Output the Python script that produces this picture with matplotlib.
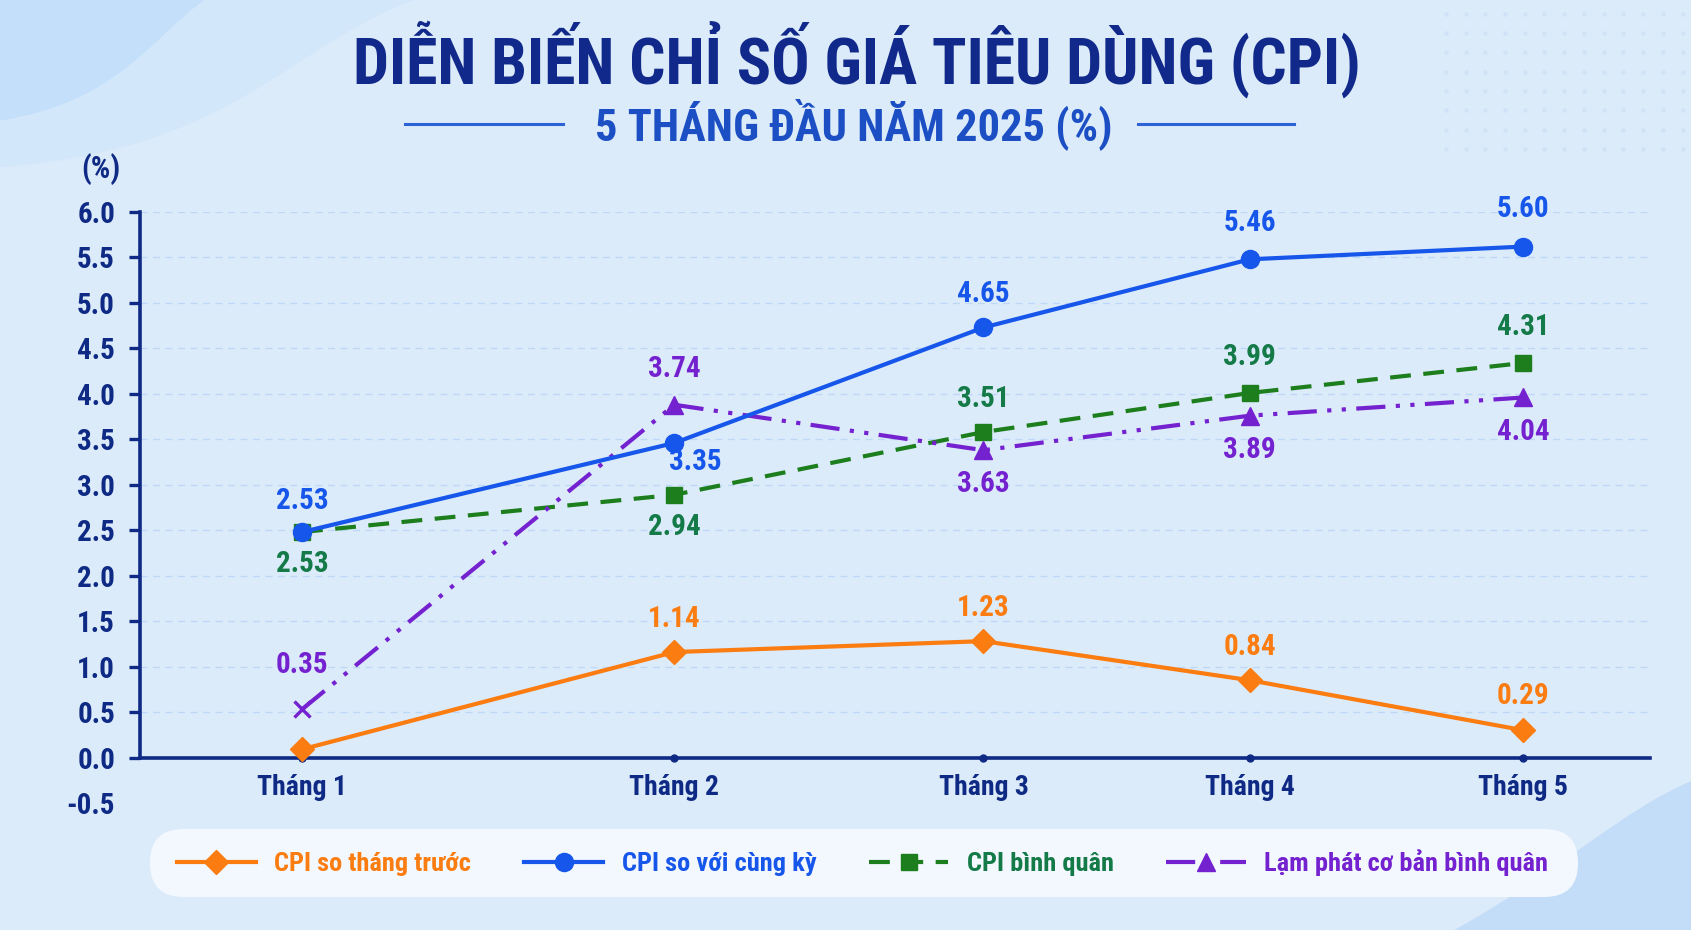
import matplotlib
matplotlib.use("Agg")
import matplotlib.pyplot as plt
from matplotlib import font_manager
from matplotlib.patches import PathPatch, FancyBboxPatch
from matplotlib.path import Path
import numpy as np

# ---- data ----
months = ["Tháng 1", "Tháng 2", "Tháng 3", "Tháng 4", "Tháng 5"]
series_names = ["CPI so tháng trước", "CPI so với cùng kỳ", "CPI bình quân", "Lạm phát cơ bản bình quân"]

# values as drawn on the chart
cpi_mom = [0.09, 1.16, 1.28, 0.85, 0.30]
cpi_yoy = [2.48, 3.46, 4.73, 5.48, 5.62]
cpi_avg = [2.48, 2.89, 3.58, 4.01, 4.34]
core_avg = [0.53, 3.88, 3.38, 3.76, 3.96]

# value labels as printed
cpi_mom_lbl = ["", "1.14", "1.23", "0.84", "0.29"]
cpi_yoy_lbl = ["2.53", "3.35", "4.65", "5.46", "5.60"]
cpi_avg_lbl = ["2.53", "2.94", "3.51", "3.99", "4.31"]
core_avg_lbl = ["0.35", "3.74", "3.63", "3.89", "4.04"]

# ---- fonts ----
avail = set(f.name for f in font_manager.fontManager.ttflist)
FONT = "DejaVu Sans"
for cand in ["Liberation Sans Narrow", "Roboto Condensed", "DejaVu Sans Condensed", "Roboto", "Liberation Sans"]:
    if cand in avail:
        FONT = cand
        break
plt.rcParams["font.family"] = [FONT, "DejaVu Sans"]
plt.rcParams["font.weight"] = "bold"

NAVY = "#0e2a85"
ORANGE = "#fb7c10"
BLUE = "#1656ea"
GREEN = "#1c7e1c"
GREEN_TXT = "#147a48"
PURPLE = "#7421cf"

# month positions along the axis (spacing in the original is uneven)
xpos = [0.0, 1.0, 1.83, 2.545, 3.28]

fig = plt.figure(figsize=(16.91, 9.30), dpi=100)
fig.patch.set_facecolor("#dcebfa")

# background shapes
bg = fig.add_axes([0, 0, 1, 1], zorder=-5)
bg.set_xlim(0, 1); bg.set_ylim(0, 1); bg.axis("off")
C4 = Path.CURVE4
verts = [(0, 1), (0.121, 1), (0.09, 0.96), (0.07, 0.89), (0, 0.87), (0, 1)]
codes = [Path.MOVETO, Path.LINETO, C4, C4, C4, Path.CLOSEPOLY]
bg.add_patch(PathPatch(Path(verts, codes), fc="#c4dff9", ec="none"))
verts = [(0.121, 1), (0.245, 1), (0.17, 0.95), (0.14, 0.84), (0, 0.82), (0, 0.87),
         (0.07, 0.89), (0.09, 0.96), (0.121, 1)]
codes = [Path.MOVETO, Path.LINETO, C4, C4, C4, Path.LINETO, C4, C4, C4]
bg.add_patch(PathPatch(Path(verts, codes), fc="#d3e7fb", ec="none"))
verts = [(1, 0), (0.86, 0), (0.92, 0.06), (0.96, 0.13), (1, 0.16), (1, 0)]
codes = [Path.MOVETO, Path.LINETO, C4, C4, C4, Path.CLOSEPOLY]
bg.add_patch(PathPatch(Path(verts, codes), fc="#c3ddf8", ec="none"))
gx, gy = np.meshgrid(np.linspace(0.855, 0.995, 13), np.linspace(0.84, 0.985, 8))
bg.scatter(gx.ravel(), gy.ravel(), s=10, color="#cfe2f6", lw=0)

# ---- main axes ----
ax = fig.add_axes([0.0828, 0.1366, 0.893, 0.6354])
ax.set_facecolor("none")
ax.set_xlim(-0.435, 3.62)
ax.set_ylim(-0.5, 6.0)

LW = 3.0
ax.plot(xpos, cpi_mom, color=ORANGE, lw=LW, marker="D", ms=12, zorder=4, label=series_names[0])
ax.plot(xpos, cpi_yoy, color=BLUE, lw=LW, marker="o", ms=13, zorder=5, label=series_names[1])
ax.plot(xpos, cpi_avg, color=GREEN, lw=LW, ls=(0, (5, 3)), marker="s", ms=12, zorder=4, label=series_names[2])
ax.plot(xpos, core_avg, color=PURPLE, lw=LW, ls=(0, (7, 2.5, 1, 2.5, 1, 2.5)), zorder=4)
ax.plot(xpos[1:], core_avg[1:], ls="none", color=PURPLE, marker="^", ms=13, zorder=4)
ax.plot(xpos[:1], core_avg[:1], ls="none", color=PURPLE, marker="x", ms=12, mew=2.4, zorder=4)
core_handle, = ax.plot([], [], color=PURPLE, lw=LW, ls=(0, (7, 2.5, 1, 2.5)), marker="^", ms=13,
                       label=series_names[3])

# value labels: vertical offset (points) per point
def put_labels(vals, labels, offs, color, dx=None):
    for i, (v, t, o) in enumerate(zip(vals, labels, offs)):
        if not t:
            continue
        ax.annotate(t, (xpos[i], v), xytext=((dx or [0]*5)[i], o), textcoords="offset points",
                    ha="center", va="center", fontsize=21, color=color, fontweight="bold", zorder=6)

put_labels(cpi_mom, cpi_mom_lbl, [0, 24, 24, 24, 25], ORANGE)
put_labels(cpi_yoy, cpi_yoy_lbl, [22, -14, 24, 26, 27], BLUE, dx=[0, 15, 0, 0, 0])
put_labels(cpi_avg, cpi_avg_lbl, [-23, -23, 24, 26, 26], GREEN_TXT)
put_labels(core_avg, core_avg_lbl, [32, 26, -24, -25, -25], PURPLE)

# axes styling
ax.set_yticks(np.arange(-0.5, 6.01, 0.5))
ax.set_yticklabels([f"{v:.1f}" for v in np.arange(-0.5, 6.01, 0.5)])
ax.set_xticks(xpos)
ax.set_xticklabels(months)
ax.tick_params(axis="y", colors=NAVY, labelsize=21, length=8, width=2.4, pad=10)
ax.tick_params(axis="x", colors=NAVY, labelsize=20, length=0, pad=12)
ax.yaxis.get_major_ticks()[0].tick1line.set_visible(False)
for lab in ax.get_xticklabels() + ax.get_yticklabels():
    lab.set_fontweight("bold")
for y in np.arange(0.5, 6.01, 0.5):
    ax.axhline(y, color="#bcd8f6", lw=1, ls=(0, (5, 4)), zorder=1)
for s in ["top", "right"]:
    ax.spines[s].set_visible(False)
ax.spines["left"].set_bounds(0, 6)
ax.spines["left"].set_color(NAVY)
ax.spines["left"].set_linewidth(2.6)
ax.spines["bottom"].set_position(("data", 0))
ax.spines["bottom"].set_color(NAVY)
ax.spines["bottom"].set_linewidth(2.6)
ax.plot(xpos, [0] * len(xpos), ls="none", marker="o", ms=5, color=NAVY, zorder=3, clip_on=False)

fig.text(101 / 1691, 1 - 169 / 930, "(%)", color=NAVY, fontsize=22, fontweight="bold", ha="center", va="center")

# titles
fig.text(0.507, 0.9366, "DIỄN BIẾN CHỈ SỐ GIÁ TIÊU DÙNG (CPI)", color="#10298a", fontsize=46,
         fontweight="heavy", ha="center", va="center")
fig.text(0.505, 0.8667, "5 THÁNG ĐẦU NĂM 2025 (%)", color="#1c4fc4", fontsize=32,
         fontweight="bold", ha="center", va="center")
bg.plot([405 / 1691, 563 / 1691], [0.8667, 0.8667], color="#2e63d6", lw=2.2)
bg.plot([1138 / 1691, 1294 / 1691], [0.8667, 0.8667], color="#2e63d6", lw=2.2)

# legend
box = FancyBboxPatch((150 / 1691, 33 / 930), 1428 / 1691, 68 / 930, boxstyle="round,pad=0,rounding_size=0.02",
                     transform=fig.transFigure, fc="#f3f8fe", ec="none", zorder=-1, mutation_aspect=1.8)
fig.patches.append(box)
handles = ax.get_lines()[:3] + [core_handle]
leg = fig.legend(handles, series_names, loc="center", bbox_to_anchor=(0.51, 0.072), ncol=4,
                 frameon=False, fontsize=19, handlelength=3.0, columnspacing=2.0, handletextpad=0.7)
for txt, c in zip(leg.get_texts(), [ORANGE, BLUE, GREEN_TXT, PURPLE]):
    txt.set_color(c)
    txt.set_fontweight("bold")

fig.savefig("out.png", dpi=100, facecolor=fig.get_facecolor())
